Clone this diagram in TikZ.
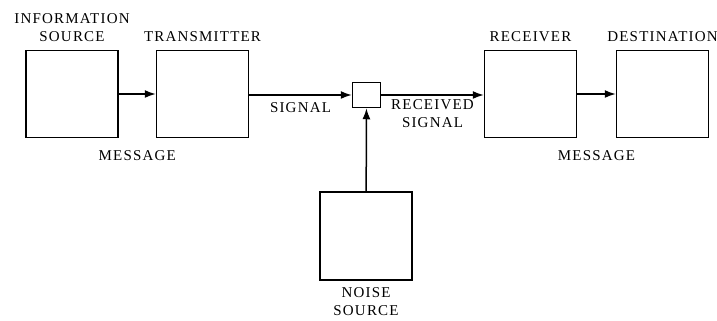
\documentclass[tikz,border=0pt]{standalone}
\usepackage{fontspec}
\setmainfont{Liberation Serif}[LetterSpace=8]
\usetikzlibrary{arrows.meta,positioning}
\begin{document}
\begin{tikzpicture}[
x=1pt, y=1pt,
font=\fontsize{15}{18}\selectfont,
box/.style={draw, line width=1.5pt, minimum width=92pt, minimum height=87pt, inner sep=0pt},
lbl/.style={align=center, inner sep=1pt},
flow/.style={line width=1.5pt, -{Latex[length=11pt,width=8pt]}}
]
\useasboundingbox (0,0) rectangle (717,321);
\node[box, label={[lbl, label distance=7pt]above:INFORMATION\\SOURCE}] (src) at (72,227) {};
\node[box, label={[lbl, label distance=7pt]above:TRANSMITTER}] (tx) at (202.5,227) {};
\node[draw, line width=1.5pt, minimum width=28pt, minimum height=25pt, inner sep=0pt] (mix) at (366.5,226) {};
\node[box, label={[lbl, label distance=7pt]above:RECEIVER}] (rx) at (530.5,227) {};
\node[box, label={[lbl, label distance=7pt]above:DESTINATION}] (dst) at (662.5,227) {};
\node[box, minimum height=88pt, label={[lbl, label distance=6pt]below:NOISE\\SOURCE}] (noise) at (366,85) {};

\draw[flow] (src) -- node[lbl, below=55pt] {MESSAGE} (tx);
\draw[flow] (tx.east |- mix) -- node[lbl, below=6pt] {SIGNAL} (mix);
\draw[flow] (mix) -- node[lbl, below=3pt] {RECEIVED\\SIGNAL} (rx.west |- mix);
\draw[flow] (rx) -- node[lbl, below=55pt] {MESSAGE} (dst);
\draw[flow] (noise) -- (mix);
\end{tikzpicture}
\end{document}
